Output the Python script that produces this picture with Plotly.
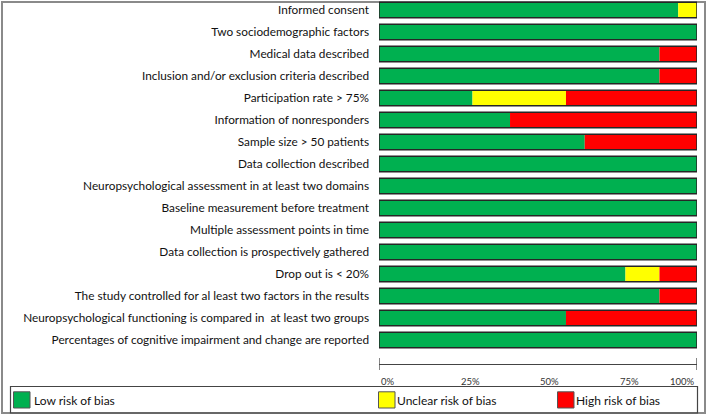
import plotly.graph_objects as go

categories = [
    "Informed consent",
    "Two sociodemographic factors",
    "Medical data described",
    "Inclusion and/or exclusion criteria described",
    "Participation rate > 75%",
    "Information of nonresponders",
    "Sample size > 50 patients",
    "Data collection described",
    "Neuropsychological assessment in at least two domains",
    "Baseline measurement before treatment",
    "Multiple assessment points in time",
    "Data collection is prospectively gathered",
    "Drop out is < 20%",
    "The study controlled for al least two factors in the results",
    "Neuropsychological functioning is compared in  at least two groups",
    "Percentages of cognitive impairment and change are reported",
]
low_risk = [94.1, 100, 88.2, 88.2, 29.4, 41.2, 64.7, 100, 100, 100, 100, 100, 77.5, 88.2, 58.8, 100]
unclear_risk = [5.9, 0, 0, 0, 29.4, 0, 0, 0, 0, 0, 0, 0, 10.7, 0, 0, 0]
high_risk = [0, 0, 11.8, 11.8, 41.2, 58.8, 35.3, 0, 0, 0, 0, 0, 11.8, 11.8, 41.2, 0]
series_names = ["Low risk of bias", "Unclear risk of bias", "High risk of bias"]
series_colors = ["#00B050", "#FFFF00", "#FF0000"]
tick_values = [0, 25, 50, 75, 100]
tick_labels = ["0%", "25%", "50%", "75%", "100%"]

W, H = 709, 417
ML, MR, MT, MB = 379, 12, 0, 53
PW, PH = W - ML - MR, H - MT - MB
FONT = "Lato"


def px_x(p):
    return (p - ML) / PW


def px_y(p):
    return 1 - (p - MT) / PH


fig = go.Figure()
base = [0.0] * len(categories)
for name, vals, col in zip(series_names, [low_risk, unclear_risk, high_risk], series_colors):
    fig.add_trace(go.Bar(
        y=categories, x=vals, base=list(base), orientation="h", name=name,
        marker=dict(color=col, line=dict(width=0)),
        showlegend=False, hoverinfo="name+x",
    ))
    base = [b + v for b, v in zip(base, vals)]

# outline around each whole bar
fig.add_trace(go.Bar(
    y=categories, x=base, orientation="h",
    marker=dict(color="rgba(255,255,255,0)", line=dict(color="#262626", width=1.5)),
    showlegend=False, hoverinfo="skip",
))

n = len(categories)
yr = [n - 1 + (PH - 10 - 22 * (n - 1)) / 22.0, -10 / 22.0]

fig.update_layout(
    width=W, height=H,
    margin=dict(l=ML, r=MR, t=MT, b=MB, pad=0, autoexpand=False),
    paper_bgcolor="white", plot_bgcolor="white",
    barmode="overlay", bargap=0.3,
    font=dict(family=FONT, size=11.8, color="#111"),
    xaxis=dict(range=[0, 100], showgrid=False, zeroline=False, showticklabels=False,
               ticks="", showline=True, linecolor="#444", linewidth=1.3, fixedrange=True),
    yaxis=dict(categoryorder="array", categoryarray=categories, range=yr,
               showgrid=False, zeroline=False, ticks="", ticklabelstandoff=9,
               automargin=False,
               tickfont=dict(family=FONT, size=11.8, color="#111"), fixedrange=True),
)

shapes = []
# axis end ticks
for xv in (tick_values[0], tick_values[-1]):
    shapes.append(dict(type="line", xref="x", yref="paper", ysizemode="pixel", yanchor=0,
                       x0=xv, x1=xv, y0=-6, y1=6, line=dict(color="#444", width=1.3)))
# outer frame
shapes.append(dict(type="rect", xref="paper", yref="paper",
                   x0=px_x(2), x1=px_x(705), y0=px_y(2), y1=px_y(413),
                   line=dict(color="#8a8a8a", width=2), layer="below"))
# legend box
shapes.append(dict(type="rect", xref="paper", yref="paper",
                   x0=px_x(10.5), x1=px_x(697.5), y0=px_y(386.5), y1=px_y(413),
                   line=dict(color="#444", width=1.2)))
# legend swatches
swatch_x = [13.5, 378.5, 557.5]
text_x = [31.5, 394.5, 573.5]
annotations = []
for sx, tx, name, col in zip(swatch_x, text_x, series_names, series_colors):
    shapes.append(dict(type="rect", xref="paper", yref="paper",
                       x0=px_x(sx), x1=px_x(sx + 16.5), y0=px_y(391.8), y1=px_y(408),
                       fillcolor=col, line=dict(color="#555", width=1)))
    annotations.append(dict(text=name, xref="paper", yref="paper", x=px_x(tx), y=px_y(400),
                            xanchor="left", yanchor="middle", showarrow=False,
                            font=dict(family=FONT, size=12, color="#111")))

for v, t in zip(tick_values, tick_labels):
    annotations.append(dict(text=t, xref="x", yref="paper", x=v, y=0, yshift=-17,
                            xanchor="right" if v == tick_values[-1] else "left",
                            yanchor="middle", showarrow=False,
                            font=dict(family=FONT, size=9.5, color="#333")))

fig.update_layout(shapes=shapes, annotations=annotations)
fig.write_html("out.html", config={"displayModeBar": False},
               post_script="document.body.style.margin='0px';document.body.style.padding='0px';")
